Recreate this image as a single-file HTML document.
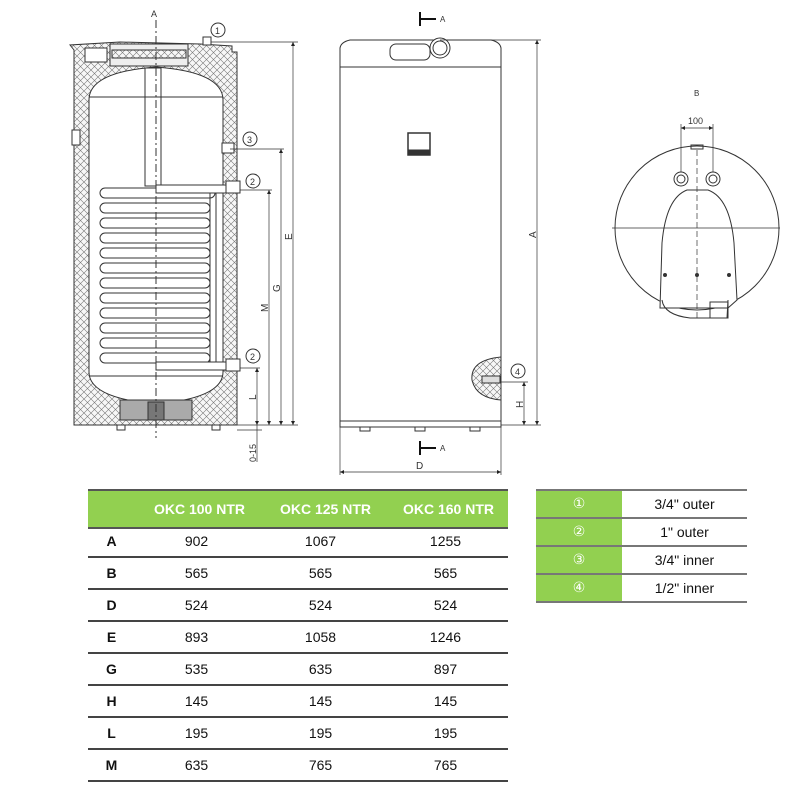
<!DOCTYPE html>
<html><head><meta charset="utf-8"><style>
body{margin:0;background:#fff;width:800px;height:800px;overflow:hidden;position:relative;font-family:"Liberation Sans",sans-serif}
svg{position:absolute;left:0;top:0}
.t{position:absolute;border-collapse:collapse;font-family:"Liberation Sans","DejaVu Sans",sans-serif;font-size:14px;color:#111}
</style></head><body>
<svg width="800" height="480" viewBox="0 0 800 480">
<defs>
<pattern id="h" width="7" height="7" patternUnits="userSpaceOnUse">
<rect width="7" height="7" fill="#f7f7f7"/>
<path d="M0,0L7,7M7,0L0,7" stroke="#777" stroke-width="0.6"/>
</pattern>
<marker id="ar" viewBox="0 0 6 6" refX="6" refY="3" markerWidth="6" markerHeight="6" orient="auto-start-reverse"><path d="M0,0L6,3L0,6z" fill="#222"/></marker>
</defs>
<g stroke="#333" stroke-width="1" fill="none" font-family="Liberation Sans" font-size="9">
<!-- LEFT section -->
<path d="M74,50 L74,425 L237,425 L237,52 L232,52 L232,46 L200,44 L120,42 L70,45 Z" fill="url(#h)"/>
<path d="M89,100 Q89,72 156,67 Q223,72 223,100 L223,372 Q223,398 156,404 Q89,398 89,372 Z" fill="#fff"/>
<rect x="110" y="44" width="78" height="22" fill="#eee"/>
<rect x="112" y="50" width="74" height="8" fill="url(#h)"/>
<rect x="85" y="48" width="22" height="14" fill="#fff"/>
<rect x="120" y="400" width="72" height="20" fill="#aaa"/>
<rect x="148" y="402" width="16" height="18" fill="#777"/>
<rect x="72" y="130" width="8" height="15" fill="#fff"/>
<rect x="145" y="68" width="16" height="118" fill="#fff"/>
<line x1="89" y1="97" x2="223" y2="97"/>
<line x1="89" y1="376" x2="223" y2="376"/>
<g fill="#fff">
<rect x="100" y="188" width="115" height="10" rx="5"/>
<rect x="100" y="203" width="110" height="10" rx="5"/>
<rect x="100" y="218" width="110" height="10" rx="5"/>
<rect x="100" y="233" width="110" height="10" rx="5"/>
<rect x="100" y="248" width="110" height="10" rx="5"/>
<rect x="100" y="263" width="110" height="10" rx="5"/>
<rect x="100" y="278" width="110" height="10" rx="5"/>
<rect x="100" y="293" width="110" height="10" rx="5"/>
<rect x="100" y="308" width="110" height="10" rx="5"/>
<rect x="100" y="323" width="110" height="10" rx="5"/>
<rect x="100" y="338" width="110" height="10" rx="5"/>
<rect x="100" y="353" width="110" height="10" rx="5"/>
</g>
<rect x="156" y="185" width="74" height="8" fill="#fff"/>
<rect x="210" y="193" width="6" height="170"/>
<rect x="156" y="362" width="74" height="8" fill="#fff"/>
<rect x="226" y="181" width="14" height="12" fill="#fff"/>
<rect x="226" y="359" width="14" height="12" fill="#fff"/>
<rect x="222" y="143" width="12" height="10" fill="#fff"/>
<rect x="203" y="37" width="8" height="8" fill="#fff"/>
<rect x="117" y="425" width="8" height="5"/><rect x="212" y="425" width="8" height="5"/>
<line x1="156" y1="20" x2="156" y2="438" stroke-dasharray="8,3,2,3"/>
<text x="151" y="17" fill="#333" stroke="none">A</text>
<circle cx="218" cy="30" r="7"/><text x="215" y="34" fill="#333" stroke="none">1</text>
<circle cx="250" cy="139" r="7"/><text x="247" y="143" fill="#333" stroke="none">3</text>
<circle cx="253" cy="181" r="7"/><text x="250" y="185" fill="#333" stroke="none">2</text>
<circle cx="253" cy="356" r="7"/><text x="250" y="360" fill="#333" stroke="none">2</text>
<g stroke-width="0.7">
<line x1="211" y1="42" x2="298" y2="42"/><line x1="230" y1="149" x2="284" y2="149"/>
<line x1="240" y1="190" x2="272" y2="190"/><line x1="240" y1="368" x2="260" y2="368"/>
<line x1="237" y1="425" x2="298" y2="425"/><line x1="237" y1="430" x2="262" y2="430"/>
<line x1="293" y1="42" x2="293" y2="425" marker-start="url(#ar)" marker-end="url(#ar)"/>
<line x1="281" y1="149" x2="281" y2="425" marker-start="url(#ar)" marker-end="url(#ar)"/>
<line x1="269" y1="190" x2="269" y2="425" marker-start="url(#ar)" marker-end="url(#ar)"/>
<line x1="257" y1="368" x2="257" y2="425" marker-start="url(#ar)" marker-end="url(#ar)"/>
<line x1="257" y1="425" x2="257" y2="462"/>
</g>
<g fill="#333" stroke="none" font-size="10">
<text transform="translate(292,240) rotate(-90)">E</text>
<text transform="translate(280,292) rotate(-90)">G</text>
<text transform="translate(268,312) rotate(-90)">M</text>
<text transform="translate(256,400) rotate(-90)">L</text>
<text transform="translate(256,462) rotate(-90)" font-size="9">0-15</text>
</g>
<!-- MIDDLE -->
<path d="M340,67 L340,48 Q341,42 350,40 L491,40 Q500,42 501,48 L501,67 Z" fill="#fff"/>
<rect x="340" y="67" width="161" height="360" fill="#fff"/>
<line x1="340" y1="421" x2="501" y2="421"/>
<rect x="390" y="44" width="40" height="16" rx="6"/>
<circle cx="440" cy="48" r="10" fill="#fff"/><circle cx="440" cy="48" r="7"/>
<rect x="408" y="133" width="22" height="22" fill="#fff" stroke-width="1.5"/>
<rect x="409" y="150" width="21" height="5" fill="#333"/>
<rect x="360" y="427" width="10" height="4"/><rect x="415" y="427" width="10" height="4"/><rect x="470" y="427" width="10" height="4"/>
<path d="M501,357 Q470,360 472,380 Q476,398 501,400 Z" fill="url(#h)"/>
<rect x="482" y="376" width="18" height="7" fill="#ddd"/>
<circle cx="518" cy="371" r="7"/><text x="515" y="375" fill="#333" stroke="none">4</text>
<g stroke-width="0.7">
<line x1="501" y1="382" x2="528" y2="382"/>
<line x1="501" y1="425" x2="541" y2="425"/><line x1="440" y1="40" x2="541" y2="40"/>
<line x1="537" y1="40" x2="537" y2="425" marker-start="url(#ar)" marker-end="url(#ar)"/>
<line x1="524" y1="382" x2="524" y2="425" marker-start="url(#ar)" marker-end="url(#ar)"/>
<line x1="340" y1="427" x2="340" y2="475"/><line x1="501" y1="427" x2="501" y2="475"/>
<line x1="340" y1="472" x2="501" y2="472" marker-start="url(#ar)" marker-end="url(#ar)"/>
</g>
<g fill="#333" stroke="none" font-size="10">
<text transform="translate(536,238) rotate(-90)">A</text>
<text transform="translate(523,408) rotate(-90)">H</text>
<text x="416" y="469">D</text>
<text x="440" y="22" font-size="8">A</text><text x="440" y="451" font-size="8">A</text>
</g>
<path d="M420,12 L420,26 M420,19 L436,19" stroke="#111" stroke-width="2"/>
<path d="M420,441 L420,455 M420,448 L436,448" stroke="#111" stroke-width="2"/>
<!-- RIGHT -->
<text x="694" y="96" fill="#333" stroke="none" font-size="8">B</text>
<circle cx="697" cy="228" r="82" fill="#fff"/>
<path d="M660,308 L662,243 Q666,198 687,190 L708,190 Q730,198 734,243 L737,300 L728,308 Z" fill="#fff"/>
<path d="M662,300 Q664,315 690,318 L727,318 L728,300"/>
<rect x="710" y="302" width="18" height="16"/>
<circle cx="681" cy="179" r="7"/><circle cx="681" cy="179" r="4"/>
<circle cx="713" cy="179" r="7"/><circle cx="713" cy="179" r="4"/>
<rect x="691" y="145" width="12" height="4"/>
<g stroke-width="0.7">
<line x1="612" y1="228" x2="780" y2="228"/>
<line x1="697" y1="150" x2="697" y2="318" stroke-dasharray="6,3"/>
<line x1="681" y1="124" x2="681" y2="172"/><line x1="713" y1="124" x2="713" y2="172"/>
<line x1="681" y1="128" x2="713" y2="128" marker-start="url(#ar)" marker-end="url(#ar)"/>
</g>
<text x="688" y="124" fill="#333" stroke="none" font-size="9">100</text>
<circle cx="665" cy="275" r="1.5" fill="#333"/><circle cx="697" cy="275" r="1.5" fill="#333"/><circle cx="729" cy="275" r="1.5" fill="#333"/>
</g>
</svg>

<table class="t" style="left:88px;top:489px;width:420px">
<tr style="background:#92d050;color:#fff;font-weight:bold;height:38px;border-top:2px solid #555;border-bottom:2px solid #555">
<td style="width:47px"></td><td style="text-align:center;width:123px">OKC 100 NTR</td><td style="text-align:center;width:125px">OKC 125 NTR</td><td style="text-align:center">OKC 160 NTR</td></tr>
</table>
<div id="rows" style="position:absolute;left:88px;top:526px;width:420px;font-size:14px;color:#111">
<div style="height:30px;line-height:30px;border-bottom:2px solid #444;display:flex"><b style="width:47px;text-align:center">A</b><span style="width:123px;text-align:center">902</span><span style="width:125px;text-align:center">1067</span><span style="width:125px;text-align:center">1255</span></div>
<div style="height:30px;line-height:30px;border-bottom:2px solid #444;display:flex"><b style="width:47px;text-align:center">B</b><span style="width:123px;text-align:center">565</span><span style="width:125px;text-align:center">565</span><span style="width:125px;text-align:center">565</span></div>
<div style="height:30px;line-height:30px;border-bottom:2px solid #444;display:flex"><b style="width:47px;text-align:center">D</b><span style="width:123px;text-align:center">524</span><span style="width:125px;text-align:center">524</span><span style="width:125px;text-align:center">524</span></div>
<div style="height:30px;line-height:30px;border-bottom:2px solid #444;display:flex"><b style="width:47px;text-align:center">E</b><span style="width:123px;text-align:center">893</span><span style="width:125px;text-align:center">1058</span><span style="width:125px;text-align:center">1246</span></div>
<div style="height:30px;line-height:30px;border-bottom:2px solid #444;display:flex"><b style="width:47px;text-align:center">G</b><span style="width:123px;text-align:center">535</span><span style="width:125px;text-align:center">635</span><span style="width:125px;text-align:center">897</span></div>
<div style="height:30px;line-height:30px;border-bottom:2px solid #444;display:flex"><b style="width:47px;text-align:center">H</b><span style="width:123px;text-align:center">145</span><span style="width:125px;text-align:center">145</span><span style="width:125px;text-align:center">145</span></div>
<div style="height:30px;line-height:30px;border-bottom:2px solid #444;display:flex"><b style="width:47px;text-align:center">L</b><span style="width:123px;text-align:center">195</span><span style="width:125px;text-align:center">195</span><span style="width:125px;text-align:center">195</span></div>
<div style="height:30px;line-height:30px;border-bottom:2px solid #444;display:flex"><b style="width:47px;text-align:center">M</b><span style="width:123px;text-align:center">635</span><span style="width:125px;text-align:center">765</span><span style="width:125px;text-align:center">765</span></div>
</div>

<div style="position:absolute;left:536px;top:489px;width:211px;font-size:14px;color:#111;border-top:2px solid #777">
<div style="display:flex;height:26px;line-height:26px;border-bottom:2px solid #777"><span style="width:86px;background:#92d050;color:#fff;text-align:center;font-family:'DejaVu Sans'">①</span><span style="flex:1;text-align:center">3/4" outer</span></div>
<div style="display:flex;height:26px;line-height:26px;border-bottom:2px solid #777"><span style="width:86px;background:#92d050;color:#fff;text-align:center;font-family:'DejaVu Sans'">②</span><span style="flex:1;text-align:center">1" outer</span></div>
<div style="display:flex;height:26px;line-height:26px;border-bottom:2px solid #777"><span style="width:86px;background:#92d050;color:#fff;text-align:center;font-family:'DejaVu Sans'">③</span><span style="flex:1;text-align:center">3/4" inner</span></div>
<div style="display:flex;height:26px;line-height:26px;border-bottom:2px solid #777"><span style="width:86px;background:#92d050;color:#fff;text-align:center;font-family:'DejaVu Sans'">④</span><span style="flex:1;text-align:center">1/2" inner</span></div>
</div>
</body></html>
